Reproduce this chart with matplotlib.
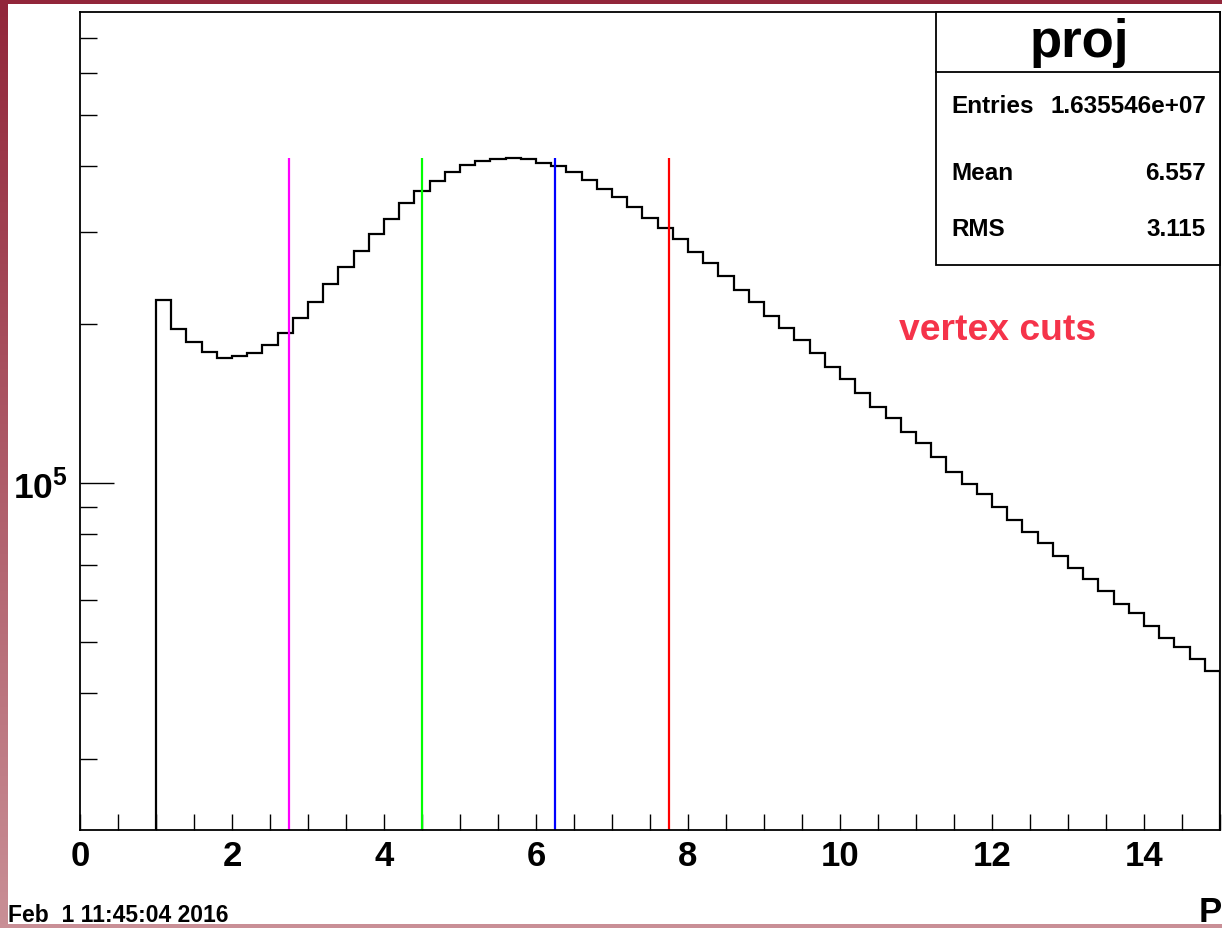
import numpy as np
import matplotlib
matplotlib.use('Agg')
import matplotlib.pyplot as plt
from matplotlib.ticker import FixedLocator, NullFormatter, FixedFormatter, MultipleLocator
from matplotlib.patches import Rectangle
from matplotlib.colors import LinearSegmentedColormap

plt.rcParams['font.family'] = ['Liberation Sans', 'DejaVu Sans']
plt.rcParams['font.weight'] = 'bold'
plt.rcParams['mathtext.fontset'] = 'custom'
plt.rcParams['mathtext.bf'] = 'Liberation Sans:bold'
plt.rcParams['mathtext.rm'] = 'Liberation Sans:bold'

# ---------------- data ----------------
bin_low = 1.0
bin_width = 0.2
counts = [222200, 196000, 185400, 177000, 172700, 174000, 176500, 182700, 192600, 205700,
          220800, 238200, 257500, 275900, 296900, 316800, 339500, 357700, 374700, 389200,
          401800, 408900, 411900, 413700, 411400, 405400, 399000, 389200, 375800, 361300,
          348900, 334400, 318300, 304300, 290400, 274000, 261500, 246700, 232700, 220500,
          207700, 197100, 186500, 176200, 165800, 157500, 148000, 139600, 133000, 125100,
          119100, 111900, 105100, 99700, 95300, 89900, 85000, 80600, 77000, 72800,
          68900, 65700, 62300, 58900, 56700, 53500, 50800, 48800, 46300, 43900]
cut_positions = [2.75, 4.5, 6.25, 7.75]
cut_colors = ['#ff00ff', '#00ff00', '#0000ff', '#ff0000']
x_major = [0, 2, 4, 6, 8, 10, 12, 14]
x_tick_labels = ['0', '2', '4', '6', '8', '10', '12', '14']
y_major = [1e5]
y_tick_labels = [r'$\mathbf{10^{5}}$']
x_range = (0, 15)
y_range = (21955, 784400)
title = 'proj'
stats_labels = ['Entries', 'Mean', 'RMS']
stats_values = ['1.635546e+07', '6.557', '3.115']
annotation = 'vertex cuts'
date_stamp = 'Feb  1 11:45:04 2016'
x_label = 'P'

# ---------------- figure ----------------
W, H = 1222, 929
fig = plt.figure(figsize=(W / 100, H / 100), dpi=100)

# window-like background with gradient border
bg = fig.add_axes([0, 0, 1, 1], zorder=-10)
grad = np.linspace(0, 1, 256).reshape(-1, 1)
cmap = LinearSegmentedColormap.from_list('border', ['#92263a', '#c98f96'])
bg.imshow(grad, aspect='auto', cmap=cmap, extent=[0, W, H, 0])
bg.add_patch(Rectangle((8, 5), W, 920, facecolor='white', edgecolor='none'))
bg.set_xlim(0, W)
bg.set_ylim(H, 0)
bg.axis('off')

# main axes
L, R, T, B = 80, 1220, 12.7, 831
ax = fig.add_axes([L / W, 1 - B / H, (R - L) / W, (B - T) / H])
ax.set_yscale('log')
ax.set_xlim(*x_range)
ax.set_ylim(*y_range)

edges = bin_low + bin_width * np.arange(len(counts) + 1)
ax.stairs(counts, edges, baseline=y_range[0] * 0.5, color='black', linewidth=1.6)
ax.vlines(cut_positions, y_range[0] * 0.5, max(counts), colors=cut_colors, linewidth=1.6)

for s in ax.spines.values():
    s.set_linewidth(1.3)

ax.xaxis.set_major_locator(FixedLocator(x_major))
ax.xaxis.set_major_formatter(FixedFormatter(x_tick_labels))
ax.xaxis.set_minor_locator(MultipleLocator(0.5))
ax.yaxis.set_major_locator(FixedLocator(y_major))
ax.yaxis.set_major_formatter(FixedFormatter(y_tick_labels))
ax.yaxis.set_minor_locator(FixedLocator([m * 10 ** e for e in (4, 5) for m in range(2, 10)]))
ax.yaxis.set_minor_formatter(NullFormatter())

ax.tick_params(axis='x', which='major', direction='in', length=11.5, width=1.0,
               labelsize=25, pad=6.5, top=False)
ax.tick_params(axis='x', which='minor', direction='in', length=11.5, width=1.0, top=False)
ax.tick_params(axis='y', which='major', direction='in', length=24.5, width=1.0,
               labelsize=25.5, pad=9, right=False)
ax.tick_params(axis='y', which='minor', direction='in', length=12.2, width=1.0, right=False)
for lab in ax.get_xticklabels() + ax.get_yticklabels():
    lab.set_fontweight('bold')

# overlay in pixel coordinates for boxes / texts
ov = fig.add_axes([0, 0, 1, 1], zorder=5)
ov.set_xlim(0, W)
ov.set_ylim(H, 0)
ov.axis('off')
ov.patch.set_alpha(0)

# stats box
bx0, by0, bx1, by1 = 936, 12.7, 1220, 265.7
ov.add_patch(Rectangle((bx0, by0), bx1 - bx0, by1 - by0, facecolor='white',
                       edgecolor='black', linewidth=1.3))
ov.plot([bx0, bx1], [73.3, 73.3], color='black', linewidth=1.3)
ov.text((bx0 + bx1) / 2 + 1, 57, title, ha='center', va='baseline', fontsize=38,
        fontweight='bold')
for lab, val, yb in zip(stats_labels, stats_values, [113, 179.5, 236]):
    ov.text(951.7, yb, lab, ha='left', va='baseline', fontsize=17.5, fontweight='bold')
    ov.text(1206, yb, val, ha='right', va='baseline', fontsize=17.5, fontweight='bold')

ov.text(899, 340, annotation, ha='left', va='baseline', fontsize=26.8,
        fontweight='bold', color='#f5334a')
ov.text(8, 922, date_stamp, ha='left', va='baseline', fontsize=16.5, fontweight='bold')
ov.text(1199, 922, x_label, ha='left', va='baseline', fontsize=25, fontweight='bold')

fig.savefig('out.png', dpi=100)
